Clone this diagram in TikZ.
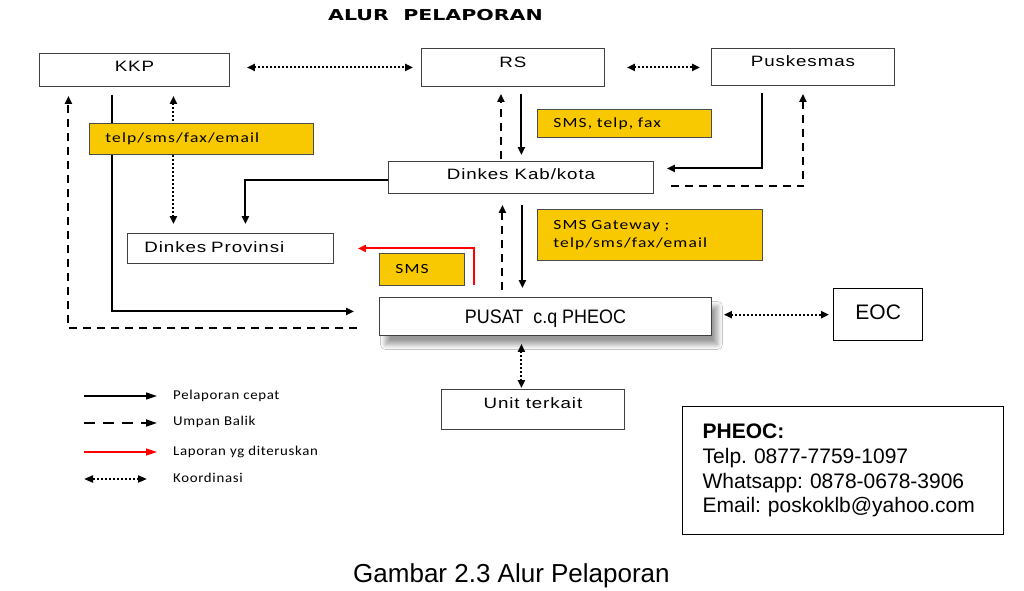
\documentclass[tikz,border=0pt]{standalone}
\usepackage{fontspec}
\setmainfont{Liberation Sans}
\newfontfamily\boxfont[FakeStretch=1.25,LetterSpace=6]{Liberation Sans}
\newfontfamily\pusatfont[FakeStretch=0.92]{Liberation Sans}
\newfontfamily\yellowfont[FakeStretch=1.25,LetterSpace=8]{Carlito}
\newfontfamily\legendfont[FakeStretch=1.1,LetterSpace=5]{Carlito}
\newfontfamily\titlefont[FakeStretch=1.37]{DejaVu Sans}
\usetikzlibrary{arrows.meta,positioning,calc,shadows.blur}
\definecolor{sorot}{HTML}{F8C800}
\frenchspacing
\tikzset{
  unitbox/.style={draw=black!75,line width=.9pt,fill=white,anchor=north west,inner sep=0pt,
    font=\boxfont\fontsize{15}{18}\selectfont,text height=11pt,text depth=6pt},
  notebox/.style={draw=black!70,line width=.8pt,fill=sorot,anchor=north west,align=left,
    inner xsep=16pt,inner ysep=0pt,font=\yellowfont\fontsize{14}{18}\selectfont},
  lapor/.style={draw=black,line width=2pt,->,>={Triangle[length=8pt,width=7pt]}},
  umpan/.style={lapor,dash pattern=on 8pt off 6pt},
  terus/.style={lapor,draw=red},
  koord/.style={lapor,<->,line width=2pt,dash pattern=on 2pt off 2pt},
  legtext/.style={anchor=west,inner sep=0pt,font=\legendfont\fontsize{13.5}{16}\selectfont}
}

\begin{document}
\begin{tikzpicture}[x=1pt,y=-1pt]
  \fill[white] (0,0) rectangle (1024,590);
  \useasboundingbox (0,0) rectangle (1024,590);
  \node[anchor=base,inner sep=0pt,font=\titlefont\bfseries\fontsize{15}{18}\selectfont] (judul) at (435.5,20) {ALUR\ \ PELAPORAN};

  % unit pelapor
  \node[unitbox,minimum width=190pt,minimum height=33pt,text depth=7pt] (kkp) at (39,53) {KKP};
  \node[unitbox,minimum width=183pt,minimum height=38pt,text depth=10pt] (rs) at (421,48) {RS};
  \node[unitbox,minimum width=183pt,minimum height=37pt,text depth=11pt] (pusk) at (711,48) {Puskesmas};
  \node[unitbox,minimum width=265pt,minimum height=32pt] (dkab) at (388,161) {Dinkes Kab/kota};
  \node[unitbox,minimum width=206pt,minimum height=30pt,text width=172pt,align=left,inner xsep=17pt,text depth=2pt] (dprov) at (127,233) {Dinkes Provinsi};
  \node[unitbox,blur shadow={shadow xshift=6pt,shadow yshift=-9pt,shadow blur radius=5pt,shadow blur steps=10,shadow opacity=40},
    minimum width=332pt,minimum height=38pt,font=\pusatfont\fontsize{19.5}{22}\selectfont,text height=14pt,text depth=0pt] (pusat) at (379,297) {PUSAT\ \ c.q PHEOC};
  \node[unitbox,draw=black,line width=1.4pt,minimum width=89pt,minimum height=52pt,font=\fontsize{21}{24}\selectfont,text height=15pt,text depth=6pt] (eoc) at (833,288) {EOC};
  \node[unitbox,minimum width=183pt,minimum height=40pt,text depth=12pt] (unit) at (441,389) {Unit terkait};

  % koordinasi
  \draw[koord,shorten <=17pt,shorten >=8pt] (kkp.east |- rs) -- (rs.west);
  \draw[koord,shorten <=22pt,shorten >=11pt] (rs.east) -- (pusk.west |- rs);
  \draw[koord,shorten <=9pt,shorten >=9pt] ([xshift=39pt]kkp.south) -- ([xshift=39pt]kkp.south |- dprov.north);
  \draw[koord,shorten <=12pt,shorten >=4pt] (pusat.east |- eoc) -- (eoc.west);
  \draw[koord,shorten <=8pt,shorten >=1pt] ([xshift=-11.5pt]unit.north |- pusat.south) -- ([xshift=-11.5pt]unit.north);

  % RS dan Puskesmas
  \draw[umpan,shorten <=2pt,shorten >=7pt] ([xshift=-12pt]rs.south |- dkab.north) -- ([xshift=-12pt]rs.south);
  \draw[lapor,shorten <=7pt,shorten >=6pt] ([xshift=8.5pt]rs.south) -- ([xshift=8.5pt]rs.south |- dkab.north);
  \draw[lapor,shorten <=7pt,shorten >=13pt] ([xshift=-40.5pt]pusk.south) |- ([yshift=9pt]dkab.east);
  \draw[umpan,shorten <=17pt,shorten >=8pt] ([yshift=-9pt]dkab.east) -| (pusk.south);

  % Dinkes dan KKP
  \draw[lapor,shorten >=9pt] ([yshift=-3pt]dkab.west) -| ([xshift=15pt]dprov.north);
  \draw[lapor,shorten <=8pt,shorten >=25pt] ([xshift=-22pt]kkp.south) |- ([yshift=5pt]pusat.west);
  \draw[umpan,shorten <=22pt,shorten >=9pt] ([yshift=-12pt]pusat.west) -| ([xshift=-66pt]kkp.south);
  \draw[umpan,shorten <=7pt,shorten >=11pt] ([xshift=-43pt]pusat.north) -- ([xshift=-43pt]pusat.north |- dkab.south);
  \draw[lapor,shorten <=11pt,shorten >=9pt] ([xshift=-23pt]pusat.north |- dkab.south) -- ([xshift=-23pt]pusat.north);
  \draw[terus,shorten <=12pt,shorten >=24pt] ([xshift=-71pt]pusat.north) |- (dprov.east);

  % media
  \node[notebox,minimum width=224pt,minimum height=31pt,text width=192pt] (media1) at (89,123) {telp/sms/fax/email};
  \node[notebox,minimum width=174pt,minimum height=28pt,text width=142pt] (media2) at (537,109) {SMS, telp, fax};
  \node[notebox,minimum width=225pt,minimum height=51pt,text width=193pt] (media3) at (537,209) {SMS Gateway ;\\telp/sms/fax/email};
  \node[notebox,minimum width=85pt,minimum height=32pt,text width=53pt] (media4) at (379,253) {SMS};

  % keterangan
  \coordinate (g1) at (84,396);
  \coordinate (g2) at (84,423);
  \coordinate (g3) at (84,452);
  \coordinate (g4) at (84,479);
  \node[legtext] (t1) at (173,396) {Pelaporan cepat};
  \node[legtext] (t2) at (173,422) {Umpan Balik};
  \node[legtext] (t3) at (173,452) {Laporan yg diteruskan};
  \node[legtext] (t4) at (173,478) {Koordinasi};
  \draw[lapor,line width=1.5pt,>={Triangle[length=11pt,width=7pt]},shorten >=16pt] (g1) -- (g1 -| t1.west);
  \draw[umpan,line width=1.8pt,dash pattern=on 11pt off 8pt,>={Triangle[length=11pt,width=7pt]},shorten >=16pt] (g2) -- (g2 -| t2.west);
  \draw[terus,line width=1.5pt,>={Triangle[length=11pt,width=7pt]},shorten >=16pt] (g3) -- (g3 -| t3.west);
  \draw[koord,>={Triangle[length=9pt,width=7pt]},shorten >=26pt] (g4) -- (g4 -| t4.west);

  % kontak
  \node[draw=black,line width=1.3pt,anchor=north west,minimum width=321pt,minimum height=128pt,
    text width=281pt,inner xsep=20pt,align=left,font=\fontsize{21}{24.7}\selectfont] (kontak) at (682,406)
    {\textbf{PHEOC:}\\Telp. 0877-7759-1097\\Whatsapp: 0878-0678-3906\\Email: poskoklb@yahoo.com};
  \node[anchor=base west,inner sep=0pt,font=\fontsize{26}{30}\selectfont] (judulgambar) at (353,582) {Gambar 2.3 Alur Pelaporan};
\end{tikzpicture}
\end{document}
